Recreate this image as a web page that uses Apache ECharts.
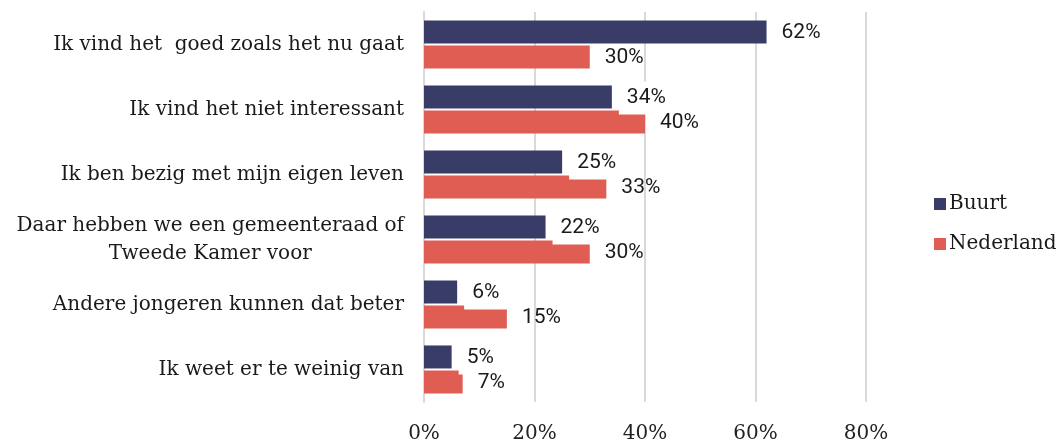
<!DOCTYPE html>
<html>
<head>
<meta charset="utf-8">
<script src="https://cdn.jsdelivr.net/npm/echarts@6/dist/echarts.min.js"></script>
<style>
  html, body { margin: 0; padding: 0; background: #fff; }
  #chart { width: 1062px; height: 444px; }
</style>
</head>
<body>
<div id="chart"></div>
<script>
// data
var categories = [
  'Ik vind het  goed zoals het nu gaat',
  'Ik vind het niet interessant',
  'Ik ben bezig met mijn eigen leven',
  'Daar hebben we een gemeenteraad of\nTweede Kamer voor',
  'Andere jongeren kunnen dat beter',
  'Ik weet er te weinig van'
];
var buurt = [62, 34, 25, 22, 6, 5];
var nederland = [30, 40, 33, 30, 15, 7];
var seriesNames = ['Buurt', 'Nederland'];

var serif = 'DejaVu Serif';
var navy = '#383c67';
var red = '#df5d52';

var chart = echarts.init(document.getElementById('chart'));

// label boxes: only the first series gets the white box (it bites into the bar below)
function valueLabel(withBox) {
  var l = {
    show: true,
    position: 'right',
    distance: withBox ? 7 : 15,
    offset: [0, 1],
    formatter: function (p) { return p.value + '%'; },
    fontFamily: 'Roboto',
    fontSize: 21,
    fontWeight: 'normal',
    color: '#1a1a1a'
  };
  if (withBox) {
    l.backgroundColor = '#fff';
    l.padding = [6, 8];
  }
  return l;
}

var option = {
  animation: false,
  grid: { left: 424, right: 196, top: 12, bottom: 37 },
  legend: {
    orient: 'vertical',
    left: 929,
    top: 189,
    itemWidth: 12,
    itemHeight: 12,
    itemGap: 20,
    icon: 'rect',
    textStyle: { fontFamily: serif, fontSize: 20, color: '#1a1a1a', padding: [0, 0, 0, -2] },
    data: seriesNames
  },
  xAxis: {
    type: 'value',
    min: 0,
    max: 80,
    interval: 20,
    axisLabel: {
      formatter: '{value}%',
      fontFamily: serif,
      fontSize: 20,
      color: '#222',
      margin: 22
    },
    axisLine: { show: false },
    axisTick: { show: false },
    splitLine: { lineStyle: { color: '#d9d9d9', width: 2 } }
  },
  yAxis: {
    type: 'category',
    inverse: true,
    data: categories,
    axisLine: { show: true, lineStyle: { color: '#d9d9d9', width: 2 } },
    axisTick: { show: false },
    axisLabel: {
      margin: 20,
      fontFamily: serif,
      fontSize: 20,
      color: '#1a1a1a',
      formatter: function (v) {
        return v.split('\n').map(function (s) { return '{c|' + s + '}'; }).join('\n');
      },
      rich: {
        c: { align: 'center', fontFamily: serif, fontSize: 20, color: '#1a1a1a', lineHeight: 28 }
      }
    }
  },
  series: [
    {
      name: seriesNames[0],
      type: 'bar',
      data: buurt,
      barWidth: 23,
      barGap: '9%',
      itemStyle: { color: navy },
      label: valueLabel(true)
    },
    {
      name: seriesNames[1],
      type: 'bar',
      data: nederland,
      barWidth: 23,
      itemStyle: { color: red },
      label: valueLabel(false)
    }
  ]
};

chart.setOption(option);
</script>
</body>
</html>
